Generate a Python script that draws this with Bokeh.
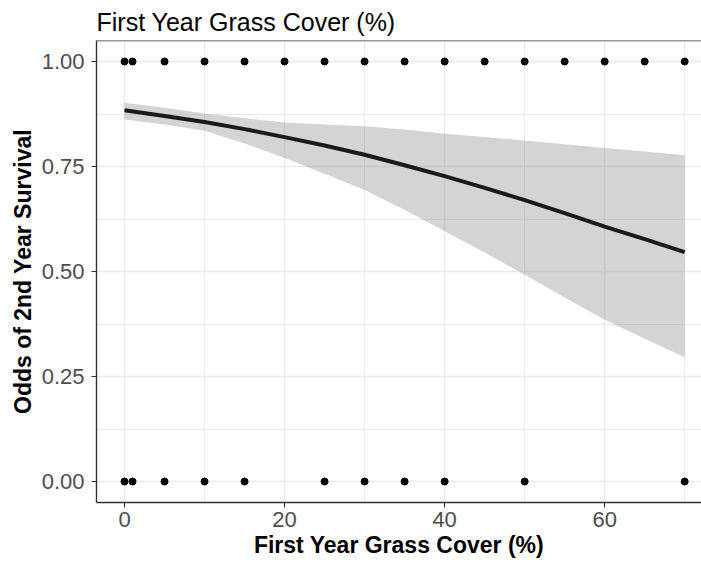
from bokeh.plotting import figure
from bokeh.models import Range1d, FixedTicker, PrintfTickFormatter, Span
from bokeh.embed import file_html
from bokeh.resources import INLINE

# observed outcomes
survived_x = [0, 1, 5, 10, 15, 20, 25, 30, 35, 40, 45, 50, 55, 60, 65, 70]
died_x = [0, 1, 5, 10, 15, 25, 30, 35, 40, 50, 70]

# fitted logistic curve with confidence band
fit_x = [0, 5, 10, 15, 20, 25, 30, 35, 40, 45, 50, 55, 60, 65, 70]
fit_y = [0.884, 0.870, 0.856, 0.839, 0.820, 0.800, 0.778, 0.753, 0.727, 0.699,
         0.670, 0.639, 0.607, 0.577, 0.546]
fit_upper = [0.902, 0.890, 0.876, 0.865, 0.855, 0.850, 0.846, 0.838, 0.828, 0.820,
             0.812, 0.803, 0.794, 0.786, 0.777]
fit_lower = [0.862, 0.850, 0.835, 0.805, 0.770, 0.733, 0.694, 0.647, 0.596, 0.545,
             0.492, 0.438, 0.385, 0.340, 0.296]

x_ticks = [0, 20, 40, 60]
x_minor = [10, 30, 50, 70]
y_ticks = [0.0, 0.25, 0.5, 0.75, 1.0]
y_minor = [0.125, 0.375, 0.625, 0.875]

FONT = "Liberation Sans"

p = figure(width=701, height=564, output_backend="svg", toolbar_location=None,
           x_range=Range1d(-3.5, 72.1), y_range=Range1d(-0.05, 1.05),
           min_border_left=96, min_border_right=0, min_border_top=0, min_border_bottom=62)

p.title.text = "First Year Grass Cover (%)"
p.title.text_font = FONT
p.title.text_font_size = "25px"
p.title.text_font_style = "normal"
p.title.text_color = "#000000"
p.title.align = "left"
p.title.standoff = 10

p.background_fill_color = "white"
p.border_fill_color = "white"
p.outline_line_color = None

# grids
for ax, t, m in ((p.xaxis[0], x_ticks, x_minor), (p.yaxis[0], y_ticks, y_minor)):
    ax.ticker = FixedTicker(ticks=t, minor_ticks=m)
p.xgrid.ticker = FixedTicker(ticks=x_ticks, minor_ticks=x_minor)
p.ygrid.ticker = FixedTicker(ticks=y_ticks, minor_ticks=y_minor)
for g in (p.xgrid[0], p.ygrid[0]):
    g.grid_line_color = "#EBEBEB"
    g.grid_line_width = 1.3
    g.minor_grid_line_color = "#EBEBEB"
    g.minor_grid_line_width = 1.0

p.yaxis.formatter = PrintfTickFormatter(format="%.2f")

for ax in (p.xaxis[0], p.yaxis[0]):
    ax.axis_line_color = "#333333"
    ax.axis_line_width = 1.4
    ax.major_tick_line_color = "#333333"
    ax.major_tick_line_width = 1.2
    ax.major_tick_in = 0
    ax.major_tick_out = 5
    ax.minor_tick_line_color = None
    ax.major_label_text_font = FONT
    ax.major_label_text_font_size = "22px"
    ax.major_label_text_color = "#4D4D4D"
    ax.major_label_standoff = 4
    ax.axis_label_text_font = FONT
    ax.axis_label_text_font_size = "23px"
    ax.axis_label_text_font_style = "bold"
    ax.axis_label_text_color = "#000000"

p.yaxis.major_label_standoff = 7
p.xaxis.axis_label = "First Year Grass Cover (%)"
p.yaxis.axis_label = "Odds of 2nd Year Survival"
p.xaxis.axis_label_standoff = 2
p.yaxis.axis_label_standoff = 3

# top border
p.add_layout(Span(location=1.05, dimension="width", line_color="#333333", line_width=1.4))

# confidence band and fitted line
p.varea(x=fit_x, y1=fit_lower, y2=fit_upper, fill_color="#999999", fill_alpha=0.42)
p.line(x=fit_x, y=fit_y, line_color="#1A1A1A", line_width=4)

# observed points
p.scatter(x=survived_x, y=[1.0] * len(survived_x), size=7, color="black")
p.scatter(x=died_x, y=[0.0] * len(died_x), size=7, color="black")

open("out.html", "w").write(file_html(p, INLINE))
